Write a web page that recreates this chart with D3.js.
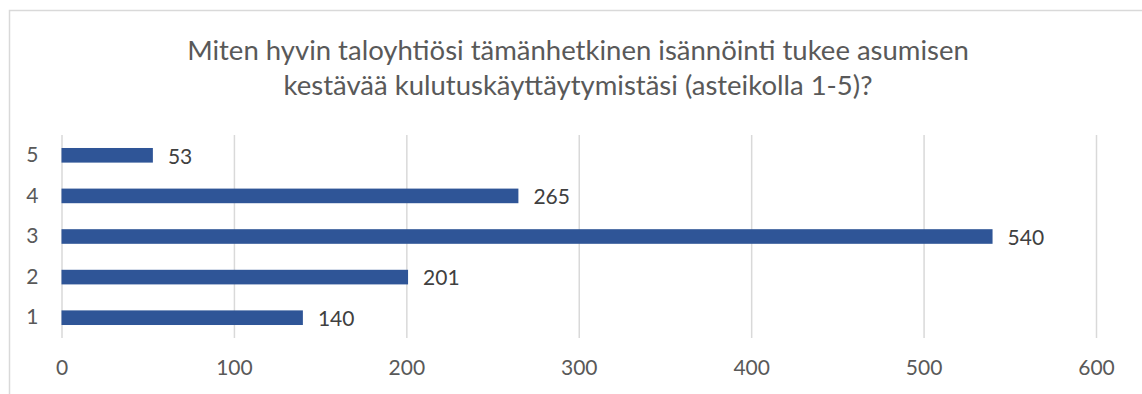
<!DOCTYPE html>
<html>
<head>
<meta charset="utf-8">
<script src="https://cdn.jsdelivr.net/npm/d3@7"></script>
<style>
  html, body { margin: 0; padding: 0; background: #fff; }
  svg { display: block; }
  text { font-family: Lato, "Open Sans", sans-serif; }
</style>
</head>
<body>
<svg id="chart" width="1142" height="394"></svg>
<script>
// Survey answers on a 1–5 scale and the number of respondents per answer
const categories = ["1", "2", "3", "4", "5"];
const counts = [140, 201, 540, 265, 53];
const xTicks = [0, 100, 200, 300, 400, 500, 600];
const titleLines = [
  "Miten hyvin taloyhtiösi tämänhetkinen isännöinti tukee asumisen",
  "kestävää kulutuskäyttäytymistäsi (asteikolla 1-5)?"
];

const svg = d3.select("#chart");
const W = 1142, H = 394;
const plot = { left: 61.5, right: 1096, top: 135, bottom: 338 };
const textColor = "#595959";

// chart frame (runs past the right and bottom edges)
svg.append("rect")
  .attr("x", 9.5).attr("y", 10.5)
  .attr("width", W + 20).attr("height", H + 20)
  .attr("fill", "none").attr("stroke", "#d9d9d9").attr("stroke-width", 1.5);

// title
svg.append("g").selectAll("text").data(titleLines).join("text")
  .attr("x", 578).attr("y", (d, i) => 60 + i * 35)
  .attr("text-anchor", "middle")
  .attr("fill", textColor)
  .attr("font-size", 27.5)
  .text(d => d);

const x = d3.scaleLinear().domain([0, 600]).range([plot.left, plot.right]);
const y = d3.scaleBand().domain(categories.slice().reverse())
  .range([plot.top, plot.bottom]).paddingInner(0.64).paddingOuter(0.32);

// vertical gridlines
const xAxis = svg.append("g")
  .attr("transform", `translate(0,${plot.bottom})`)
  .call(d3.axisBottom(x).tickValues(xTicks).tickSize(-(plot.bottom - plot.top)).tickPadding(22));
xAxis.select(".domain").remove();
xAxis.selectAll(".tick line").attr("stroke", "#d9d9d9").attr("stroke-width", 1.5);
xAxis.selectAll(".tick text")
  .attr("fill", textColor).attr("font-size", 21)
  .style("font-family", "Lato, sans-serif");

// category labels
const yAxis = svg.append("g")
  .attr("transform", `translate(${plot.left},0)`)
  .call(d3.axisLeft(y).tickSize(0).tickPadding(23));
yAxis.select(".domain").remove();
yAxis.selectAll(".tick text")
  .attr("fill", textColor).attr("font-size", 21)
  .style("font-family", "Lato, sans-serif");

const data = categories.map((c, i) => ({ cat: c, value: counts[i] }));

// bars
svg.append("g").selectAll("rect").data(data).join("rect")
  .attr("x", x(0))
  .attr("y", d => y(d.cat))
  .attr("width", d => x(d.value) - x(0))
  .attr("height", y.bandwidth())
  .attr("fill", "#2f5597");

// value labels
svg.append("g").selectAll("text").data(data).join("text")
  .attr("x", d => x(d.value) + 15)
  .attr("y", d => y(d.cat) + y.bandwidth() / 2 + 1)
  .attr("dy", "0.35em")
  .attr("fill", "#404040")
  .attr("font-size", 21)
  .text(d => d.value);
</script>
</body>
</html>
